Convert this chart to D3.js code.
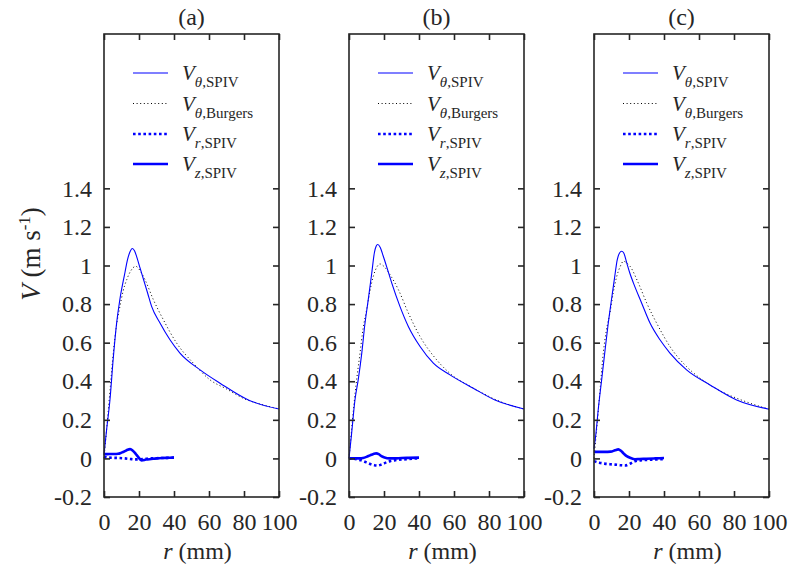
<!DOCTYPE html>
<html>
<head>
<meta charset="utf-8">
<script src="https://cdn.jsdelivr.net/npm/d3@7"></script>
<style>
  body { margin: 0; background: #fff; }
  svg text { font-family: "Liberation Serif", "Times New Roman", serif; fill: #262626; }
</style>
</head>
<body>
<div id="chart"></div>
<script>
// panel titles and axis ticks
const panelTitles = ["(a)", "(b)", "(c)"];
const xTicks = [0, 20, 40, 60, 80, 100];
const yTicks = [-0.2, 0, 0.2, 0.4, 0.6, 0.8, 1, 1.2, 1.4];

// (a) values: r in mm, V in m/s
const rThetaSpivA = [0, 1.5, 3.4, 5.3, 7.2, 9, 11, 12, 13.3, 14.8, 16.2, 17.5, 18.7, 20.5, 22.5, 25, 27.2, 32, 37.7, 43.4, 54.9, 66.3, 82.5, 100];
const vThetaSpivA = [0.02, 0.15, 0.303, 0.52, 0.7, 0.82, 0.92, 0.965, 1.025, 1.07, 1.088, 1.075, 1.045, 0.99, 0.93, 0.855, 0.788, 0.702, 0.615, 0.546, 0.459, 0.39, 0.303, 0.256];
const rBurgersA = [0, 1, 2, 3.5, 5.3, 7, 9.1, 11, 13, 15.5, 18.1, 20.5, 23.4, 28.2, 33.9, 41.5, 51, 60.6, 70, 80, 90, 100];
const vBurgersA = [0, 0.1, 0.2, 0.36, 0.546, 0.68, 0.788, 0.87, 0.927, 0.975, 0.996, 0.975, 0.927, 0.823, 0.719, 0.598, 0.494, 0.407, 0.36, 0.31, 0.28, 0.256];
const rRadialA = [0, 3, 6, 9, 12, 15, 18, 21, 24, 27, 30, 33, 36, 40];
const vRadialA = [0.008, 0.004, 0.003, 0.002, 0, -0.003, -0.005, -0.004, -0.002, 0, 0.001, 0.002, 0.003, 0.004];
const rAxialA = [0, 2, 4, 6, 8, 10, 12, 13.5, 14.9, 16.5, 18, 19.5, 21.5, 24, 27, 30, 33, 36, 40];
const vAxialA = [0.022, 0.022, 0.023, 0.023, 0.024, 0.03, 0.038, 0.045, 0.048, 0.04, 0.025, 0.008, -0.01, -0.006, -0.003, 0, 0.002, 0.003, 0.004];

// (b)
const rThetaSpivB = [0, 1.5, 3.4, 5.3, 7.3, 9, 11, 13, 14.5, 15.5, 16.4, 17.8, 19.6, 22, 24.4, 29.1, 33.9, 40.6, 48.2, 57.7, 71, 83.4, 100];
const vThetaSpivB = [0, 0.13, 0.303, 0.41, 0.546, 0.69, 0.823, 0.96, 1.066, 1.1, 1.109, 1.095, 1.048, 0.98, 0.91, 0.788, 0.684, 0.58, 0.494, 0.433, 0.364, 0.303, 0.256];
const rBurgersB = [0, 1, 2, 4, 6.3, 8, 10.1, 12, 13.9, 15.8, 17.7, 20, 23.4, 28.2, 33.9, 40.6, 50.1, 58.7, 70, 85, 100];
const vBurgersB = [0, 0.1, 0.2, 0.38, 0.546, 0.67, 0.771, 0.87, 0.944, 0.99, 1.008, 0.995, 0.953, 0.875, 0.754, 0.632, 0.511, 0.433, 0.37, 0.3, 0.256];
const rRadialB = [0, 3, 5, 7, 9, 10.6, 12.5, 14.5, 16.4, 18.5, 21.5, 23.5, 25.9, 28.5, 31.6, 34, 37, 40];
const vRadialB = [0, -0.002, -0.006, -0.01, -0.017, -0.023, -0.03, -0.035, -0.037, -0.032, -0.02, -0.014, -0.01, -0.007, -0.005, -0.003, -0.001, 0];
const rAxialB = [0, 3, 6, 8, 10, 12, 14, 15.5, 17, 18.5, 20.3, 23, 26, 30, 34, 40];
const vAxialB = [0, 0, 0, 0.002, 0.008, 0.016, 0.023, 0.026, 0.022, 0.012, 0.005, 0, 0, 0.002, 0.003, 0.004];

// (c)
const rThetaSpivC = [0, 1, 2.5, 4.4, 6.3, 8, 10.1, 11.8, 13.3, 14.6, 15.8, 17, 18.7, 20.5, 22.5, 27.2, 32, 37.7, 43.4, 52.9, 66.3, 81.5, 100];
const vThetaSpivC = [0.05, 0.12, 0.26, 0.41, 0.56, 0.69, 0.83, 0.94, 1.031, 1.065, 1.074, 1.065, 1.014, 0.96, 0.91, 0.806, 0.702, 0.615, 0.546, 0.459, 0.381, 0.303, 0.255];
const rBurgersC = [0, 1, 2, 3.5, 5.3, 7, 9.1, 11, 13, 15, 16.8, 18.5, 20.6, 25.3, 30.1, 36.8, 43.4, 52.9, 60.6, 70, 85, 100];
const vBurgersC = [0, 0.1, 0.2, 0.36, 0.546, 0.66, 0.754, 0.86, 0.944, 0.995, 1.022, 1.015, 0.996, 0.91, 0.806, 0.684, 0.58, 0.476, 0.416, 0.36, 0.3, 0.255];
const rRadialC = [0, 3, 6, 9.1, 12, 15, 17.7, 20, 23.4, 26.5, 30, 34, 39, 40];
const vRadialC = [-0.014, -0.022, -0.027, -0.03, -0.032, -0.035, -0.037, -0.03, -0.015, -0.01, -0.008, -0.006, -0.004, -0.004];
const rAxialC = [0, 3, 6, 9.5, 12, 13.9, 15.5, 17, 18.7, 21, 23.4, 26, 30, 35, 40];
const vAxialC = [0.034, 0.034, 0.034, 0.035, 0.042, 0.047, 0.038, 0.025, 0.012, 0.002, -0.004, -0.003, -0.002, 0, 0.002];

const panels = [
    { theta: [rThetaSpivA, vThetaSpivA], burgers: [rBurgersA, vBurgersA], radial: [rRadialA, vRadialA], axial: [rAxialA, vAxialA] },
    { theta: [rThetaSpivB, vThetaSpivB], burgers: [rBurgersB, vBurgersB], radial: [rRadialB, vRadialB], axial: [rAxialB, vAxialB] },
    { theta: [rThetaSpivC, vThetaSpivC], burgers: [rBurgersC, vBurgersC], radial: [rRadialC, vRadialC], axial: [rAxialC, vAxialC] }
];

const width = 793, height = 573;
const panelLeft = [104, 349, 594];
const panelW = 175, plotTop = 34, plotBottom = 497;
const axisColor = "#262626";
const serif = "'Liberation Serif', 'Times New Roman', serif";

const svg = d3.select("#chart")
    .append("svg")
    .attr("width", width)
    .attr("height", height)
    .attr("font-family", serif);

const y = d3.scaleLinear().domain([-0.2, 2.2]).range([plotBottom, plotTop]);

// series styles: blue thin, black dotted, blue thick dotted, blue thick
const styles = {
    theta: { color: "#0000ff", width: 1.1, dash: null },
    burgers: { color: "#000", width: 1, dash: "1 2.6" },
    radial: { color: "#0000ff", width: 2.6, dash: "2.6 2.6" },
    axial: { color: "#0000ff", width: 2.6, dash: null }
};

// MATLAB style labels: hyphen minus, no trailing zeros
const fmtY = d => String(+d.toFixed(1));

panels.forEach((p, i) => {
    const x = d3.scaleLinear().domain([0, 100]).range([panelLeft[i], panelLeft[i] + panelW]);
    const g = svg.append("g");

    // curves
    ["burgers", "theta", "radial", "axial"].forEach(key => {
        const [rs, vs] = p[key];
        const st = styles[key];
        const line = d3.line()
            .x((d, j) => x(rs[j]))
            .y(d => y(d))
            .curve(d3.curveMonotoneX);
        g.append("path")
            .attr("d", line(vs))
            .attr("fill", "none")
            .attr("stroke", st.color)
            .attr("stroke-width", st.width)
            .attr("stroke-dasharray", st.dash);
    });

    // axes, ticks inside on all four sides
    const xAxisB = d3.axisBottom(x).tickValues(xTicks).tickSizeInner(-6).tickSizeOuter(0).tickPadding(16).tickFormat(d => String(d));
    const xAxisT = d3.axisTop(x).tickValues(xTicks).tickSizeInner(-6).tickSizeOuter(0).tickFormat("");
    const yAxisL = d3.axisLeft(y).tickValues(yTicks).tickSizeInner(-6).tickSizeOuter(0).tickPadding(12).tickFormat(fmtY);
    const yAxisR = d3.axisRight(y).tickValues(yTicks).tickSizeInner(-6).tickSizeOuter(0).tickFormat("");

    g.append("g").attr("transform", `translate(0,${plotBottom})`).call(xAxisB);
    g.append("g").attr("transform", `translate(0,${plotTop})`).call(xAxisT);
    g.append("g").attr("transform", `translate(${panelLeft[i]},0)`).call(yAxisL);
    g.append("g").attr("transform", `translate(${panelLeft[i] + panelW},0)`).call(yAxisR);

    g.append("rect")
        .attr("x", panelLeft[i]).attr("y", plotTop)
        .attr("width", panelW).attr("height", plotBottom - plotTop)
        .attr("fill", "none")
        .attr("stroke", axisColor)
        .attr("stroke-width", 1.6);

    g.selectAll(".tick line").attr("stroke", axisColor).attr("stroke-width", 1.6);
    g.selectAll(".domain").remove();
    g.selectAll("g").attr("font-family", serif).attr("font-size", 24);
    g.selectAll(".tick text").attr("fill", axisColor);

    // title
    g.append("text")
        .attr("x", panelLeft[i] + panelW / 2)
        .attr("y", 25)
        .attr("text-anchor", "middle")
        .style("font-size", "24px")
        .text(panelTitles[i]);

    // x label
    const xl = g.append("text")
        .attr("x", panelLeft[i] + panelW / 2 + 6)
        .attr("y", 559)
        .attr("text-anchor", "middle")
        .style("font-size", "24px");
    xl.append("tspan").style("font-style", "italic").text("r");
    xl.append("tspan").text(" (mm)");

    // legend
    const legend = [
        { key: "theta", sub: [["θ", true], [",SPIV", false]] },
        { key: "burgers", sub: [["θ", true], [",Burgers", false]] },
        { key: "radial", sub: [["r", true], [",SPIV", false]] },
        { key: "axial", sub: [["z", true], [",SPIV", false]] }
    ];
    const rowY = [73, 103.5, 134, 164];
    legend.forEach((item, k) => {
        const st = styles[item.key];
        const lx = panelLeft[i] + 29;
        g.append("line")
            .attr("x1", lx).attr("x2", lx + 35)
            .attr("y1", rowY[k]).attr("y2", rowY[k])
            .attr("stroke", st.color)
            .attr("stroke-width", st.width)
            .attr("stroke-dasharray", st.dash);
        const t = g.append("text")
            .attr("x", panelLeft[i] + 78)
            .attr("y", rowY[k] + 7)
            .style("font-size", "21px");
        t.append("tspan").style("font-style", "italic").text("V");
        item.sub.forEach(([s, it], n) => {
            const ts = t.append("tspan").style("font-size", "15px").text(s);
            if (n === 0) ts.attr("dx", 0).attr("dy", 7);
            if (it) ts.style("font-style", "italic");
        });
    });
});

// y label
const yl = svg.append("text")
    .attr("transform", "translate(40,254) rotate(-90)")
    .attr("text-anchor", "middle")
    .style("font-size", "27px");
yl.append("tspan").style("font-style", "italic").text("V");
yl.append("tspan").text(" (m s");
yl.append("tspan").attr("dy", -10).style("font-size", "17px").text("-1");
yl.append("tspan").attr("dy", 10).text(")");
</script>
</body>
</html>
